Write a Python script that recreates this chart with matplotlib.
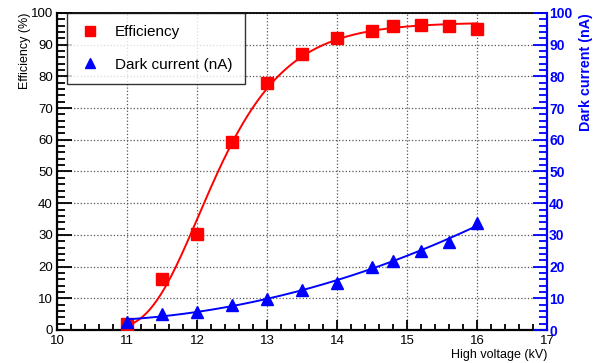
import numpy as np
import matplotlib
matplotlib.use("Agg")
import matplotlib.pyplot as plt
from matplotlib.lines import Line2D
from matplotlib.ticker import MultipleLocator

plt.rcParams['font.family'] = ['Liberation Sans', 'DejaVu Sans']

# data
voltage = [11, 11.5, 12, 12.5, 13, 13.5, 14, 14.5, 14.8, 15.2, 15.6, 16]
efficiency = [1.9, 16.1, 30.2, 59.4, 78.0, 87.1, 92.0, 94.4, 95.8, 96.3, 95.9, 94.9]
dark_current = [2.6, 5.0, 5.8, 7.9, 9.9, 12.6, 14.9, 19.8, 21.9, 24.9, 27.9, 33.8]


def gompertz(x, p):
    A, x0, w = p
    return A * np.exp(-np.exp(-(x - x0) / w))


def fit(model, x, y, p):
    # small Gauss-Newton with a numerical jacobian
    p = np.array(p, dtype=float)
    for _ in range(100):
        f = model(x, p)
        J = np.empty((len(x), len(p)))
        for i in range(len(p)):
            dp = np.zeros_like(p)
            dp[i] = 1e-6 * max(abs(p[i]), 1.0)
            J[:, i] = (model(x, p + dp) - f) / dp[i]
        p = p + np.linalg.lstsq(J, y - f, rcond=None)[0]
    return p


x = np.array(voltage)
eff = np.array(efficiency)
dc = np.array(dark_current)

p_eff = fit(gompertz, x, eff, [eff.max(), 12.0, 0.7])
xs = np.linspace(x.min(), x.max(), 300)
eff_fit = gompertz(xs, p_eff)
dc_fit = np.polyval(np.polyfit(x, dc, 2), xs)

fig = plt.figure(figsize=(6.02, 3.63), dpi=100)
ax = fig.add_axes([57 / 602, 33 / 363, 490 / 602, 317 / 363])
ax2 = ax.twinx()

ax.plot(xs, eff_fit, color='red', lw=1.4, zorder=3)
ax.plot(x, eff, 's', color='red', ms=8.2, zorder=4)
ax2.plot(xs, dc_fit, color='blue', lw=1.4, zorder=3)
ax2.plot(x, dc, '^', color='blue', ms=8.5, zorder=4)

ax.set_xlim(10, 17)
ax.set_ylim(0, 100)
ax2.set_ylim(0, 100)

ax.xaxis.set_major_locator(MultipleLocator(1))
ax.xaxis.set_minor_locator(MultipleLocator(0.2))
ax.yaxis.set_major_locator(MultipleLocator(10))
ax.yaxis.set_minor_locator(MultipleLocator(2))
ax2.yaxis.set_major_locator(MultipleLocator(10))
ax2.yaxis.set_minor_locator(MultipleLocator(2))

ax.grid(True, which='major', ls=':', color='#555555', lw=0.9)

ax.tick_params(axis='x', which='major', direction='in', length=7, width=1.3, labelsize=9.5, pad=3.5, top=False)
ax.tick_params(axis='x', which='minor', direction='in', length=4, width=1.3, top=False)
ax.tick_params(axis='y', which='major', direction='in', length=11, width=1.3, labelsize=9.5, pad=3, right=False)
ax.tick_params(axis='y', which='minor', direction='in', length=5.5, width=1.3, right=False)
ax2.tick_params(axis='y', which='major', direction='in', length=10, width=1.3, colors='blue', labelsize=10, pad=1.5)
ax2.tick_params(axis='y', which='minor', direction='in', length=5.5, width=1.3, colors='blue')
for lab in ax2.get_yticklabels():
    lab.set_fontweight('bold')

for s in ['left', 'bottom']:
    ax.spines[s].set_linewidth(1.6)
ax.spines['top'].set_linewidth(1.3)
ax.spines['right'].set_visible(False)
for s in ['left', 'bottom', 'top']:
    ax2.spines[s].set_visible(False)
ax2.spines['right'].set_color('blue')
ax2.spines['right'].set_linewidth(1.6)

ax.set_ylabel('Efficiency (%)', fontsize=9, loc='top', labelpad=0)
ax2.set_ylabel('Dark current (nA)', fontsize=10.3, fontweight='bold', color='blue', loc='top', labelpad=5)
ax.set_xlabel('High voltage (kV)', fontsize=9, loc='right', labelpad=1.5)

handles = [Line2D([], [], ls='none', marker='s', color='red', ms=7),
           Line2D([], [], ls='none', marker='^', color='blue', ms=7)]
leg = ax2.legend(handles, ['Efficiency', 'Dark current (nA)'], loc='upper left',
                 bbox_to_anchor=(0.0204, 1.0), borderaxespad=0, fancybox=False,
                 edgecolor='black', fontsize=11, labelspacing=1.2,
                 handletextpad=0.95, borderpad=0.8, handlelength=1.4)
leg.get_frame().set_linewidth(1.0)
leg.set_zorder(10)

fig.savefig('out.png', dpi=100)
